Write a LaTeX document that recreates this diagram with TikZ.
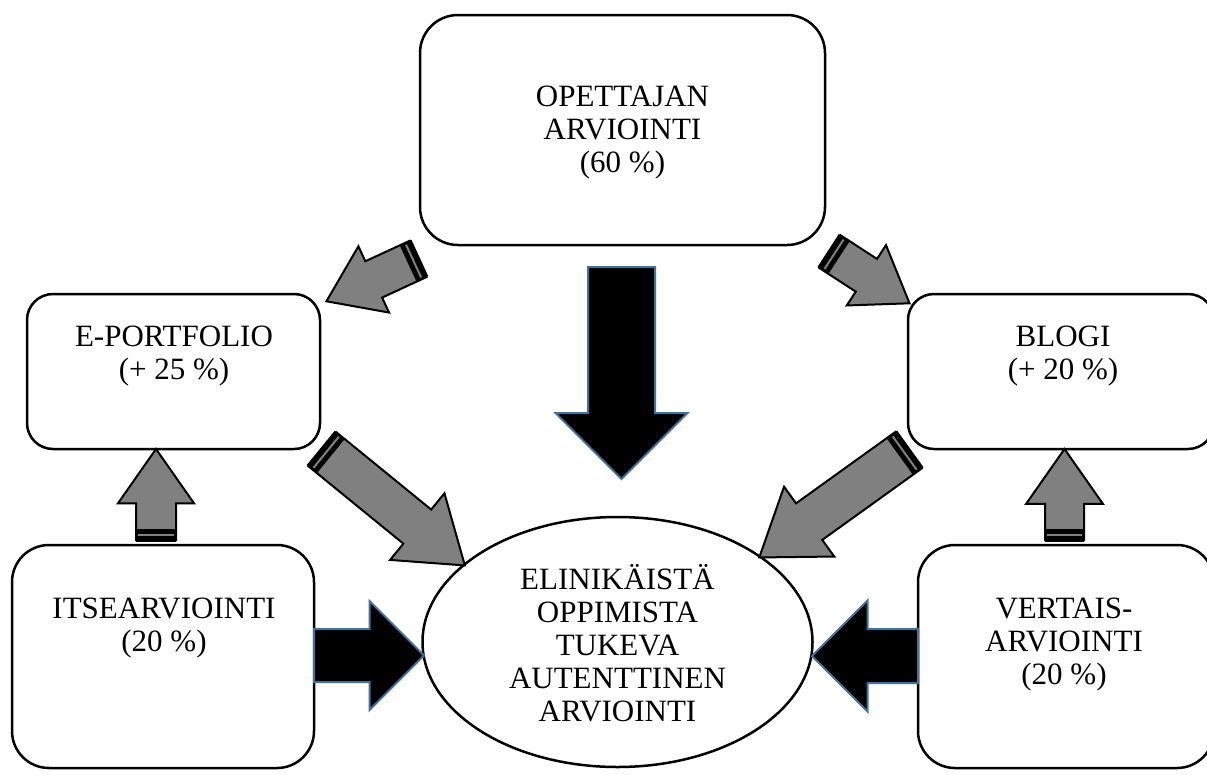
\documentclass[tikz,border=0pt]{standalone}
\usepackage{fontspec}
\setmainfont{Liberation Serif}
\usetikzlibrary{shapes.geometric, shapes.arrows}
\definecolor{arrowblue}{RGB}{65,113,156}
\definecolor{arrowgray}{RGB}{128,128,128}

\begin{document}
\begin{tikzpicture}[x=1pt, y=-1pt,
        box/.style={rectangle, draw, line width=2.5pt},
        boxtext/.style={align=center, inner sep=0pt, font=\fontsize{31}{33}\selectfont},
        blackarrow/.style={single arrow, draw=arrowblue, fill=black, line width=2pt, inner xsep=0pt, single arrow tip angle=90, anchor=tail},
        grayarrow/.style={single arrow, draw=black, fill=arrowgray, line width=2pt, inner xsep=0pt, single arrow tip angle=70, anchor=tail}]
        \useasboundingbox (0,0) rectangle (1207,774);

        % Boxes
        \node[box, rounded corners=38, minimum width=405, minimum height=230] (opettaja) at (622.5,130) {};
        \node[box, rounded corners=26, minimum width=293, minimum height=155] (portfolio) at (173.5,371.5) {};
        \node[box, rounded corners=26, minimum width=306, minimum height=155] (blogi) at (1061,371.5) {};
        \node[box, rounded corners=37, minimum width=302, minimum height=223] (itse) at (163,656.5) {};
        \node[box, rounded corners=37, minimum width=296, minimum height=223] (vertais) at (1066,656.5) {};
        \node[box, ellipse, minimum width=390, minimum height=250] (arviointi) at (617.5,642) {};

        % Texts
        \node[boxtext] (opettaja-text) at (622.5,133) {OPETTAJAN\\ARVIOINTI\\(60 \%)};
        \node[boxtext] (portfolio-text) at (174,356.5) {E-PORTFOLIO\\(+ 25 \%)};
        \node[boxtext] (blogi-text) at (1063,356.5) {BLOGI\\ (+ 20 \%)};
        \node[boxtext] (itse-text) at (164,628) {ITSEARVIOINTI\\(20 \%)};
        \node[boxtext] (vertais-text) at (1064,645) {VERTAIS-\\ARVIOINTI\\(20 \%)};
        \node[boxtext] (arviointi-text) at (617.5,643) {ELINIKÄISTÄ\\OPPIMISTA\\TUKEVA\\AUTENTTINEN\\ARVIOINTI};

        % Black arrows
        \node[blackarrow, rotate=-90, minimum height=212, inner ysep=32.5, single arrow head extend=32.5] (opettaja-arviointi) at (621.5,266) {};
        \node[blackarrow, rotate=0, minimum height=110, inner ysep=25.5, single arrow head extend=28] (itse-arviointi) at (313,655.5) {};
        \node[blackarrow, rotate=180, minimum height=106, inner ysep=26, single arrow head extend=28.5] (vertais-arviointi) at (919,656) {};

        % Gray arrows
        \node[grayarrow, rotate=204.8, minimum height=101, inner ysep=19, single arrow head extend=16.5] (opettaja-portfolio) at (419,258.5) {};
        \node[grayarrow, rotate=-33, minimum height=95, inner ysep=18.5, single arrow head extend=16.5] (opettaja-blogi) at (829,251) {};
        \node[grayarrow, rotate=-39.2, minimum height=184, inner ysep=21, single arrow head extend=21] (portfolio-arviointi) at (321.5,448.5) {};
        \node[grayarrow, rotate=215.7, minimum height=184, inner ysep=21.5, single arrow head extend=20.5] (blogi-arviointi) at (909.5,449.5) {};
        \node[grayarrow, rotate=90, minimum height=91, inner ysep=19, single arrow head extend=18] (itse-portfolio) at (156,541) {};
        \node[grayarrow, rotate=90, minimum height=91, inner ysep=18.5, single arrow head extend=19] (vertais-blogi) at (1064.5,541) {};

        % Stripes at the tails
        \foreach \a/\r/\w in {opettaja-portfolio/204.8/38, opettaja-blogi/-33/37, portfolio-arviointi/-39.2/42, blogi-arviointi/215.7/43, itse-portfolio/90/38, vertais-blogi/90/37} {
            \begin{scope}[shift={(\a.tail)}, rotate=\r]
                \fill[black] (-1,-\w/2-1) rectangle (12,\w/2+1);
                \fill[arrowgray] (5,-\w/2+1) rectangle (7,\w/2-1);
            \end{scope}
        }
    \end{tikzpicture}
\end{document}
